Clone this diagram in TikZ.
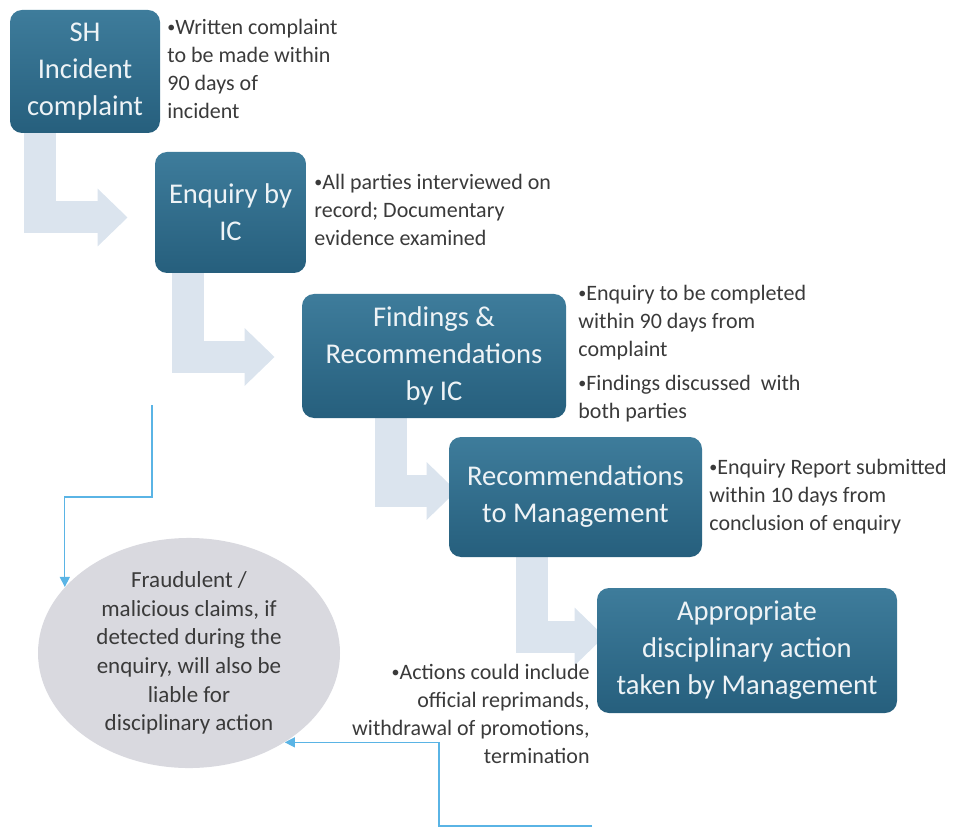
\documentclass[tikz,border=0pt]{standalone}
\usepackage{fontspec}
\setmainfont{Carlito}
\usepackage{xcolor}
\usetikzlibrary{positioning,calc}
\usetikzlibrary{shapes.geometric,arrows.meta}

\definecolor{boxtop}{HTML}{3E7C9B}
\definecolor{boxbot}{HTML}{265F7D}
\definecolor{boxtext}{HTML}{EEF3F6}
\definecolor{flowgray}{HTML}{DBE4EE}
\definecolor{linkblue}{HTML}{5AB4E5}
\definecolor{notegray}{HTML}{3A3A3A}
\definecolor{ellfill}{HTML}{D9D9DF}

\newcommand{\bul}{\raisebox{1pt}{\fontsize{8}{8}\selectfont•}}

\pgfdeclarelayer{bg}
\pgfsetlayers{bg,main}

\tikzset{
  stage/.style={rectangle, rounded corners=6pt, top color=boxtop, bottom color=boxbot,
    text=boxtext, align=center, inner sep=2pt,
    font=\fontsize{14.3}{18.5}\selectfont},
  note/.style={anchor=north west, align=left, text=notegray, inner sep=0pt,
    font=\fontsize{11}{14}\selectfont},
  flow/.style={draw=flowgray, line width=16pt, line join=miter,
    -{Triangle[width=28pt,length=15pt,fill=flowgray,color=flowgray]}},
  link/.style={draw=linkblue, line width=0.6pt, -{Triangle[width=5pt,length=5pt]}}
}

\begin{document}
\begin{tikzpicture}[x=0.5pt,y=-0.5pt]
    \useasboundingbox (0,0) rectangle (957,828);

    % stages
    \node[stage, minimum width=75pt, minimum height=61.5pt] (b1) at (85,71.5)
         {SH\\Incident\\complaint};
    \node[stage, minimum width=75.5pt, minimum height=60.5pt] (b2) at (230.5,212.5)
         {Enquiry by\\IC};
    \node[stage, minimum width=132pt, minimum height=62pt] (b3) at (434,356)
         {Findings \&\\Recommendations\\by IC};
    \node[stage, minimum width=126.5pt, minimum height=60pt] (b4) at (575.5,497)
         {Recommendations\\to Management};
    \node[stage, minimum width=150pt, minimum height=62.5pt] (b5) at (747,650.5)
         {Appropriate\\disciplinary action\\taken by Management};

    % notes
    \node[note] (n1) at (167,19) {\bul Written complaint\\to be made within\\90 days of\\incident};
    \node[note] (n2) at (314,174) {\bul All parties interviewed on\\record; Documentary\\evidence examined};
    \node[note] (n3) at (578,285) {\bul Enquiry to be completed\\within 90 days from\\complaint\\[3pt]
         \bul Findings discussed\ \ with\\both parties};
    \node[note] (n4) at (709,459) {\bul Enquiry Report submitted\\within 10 days from\\conclusion of enquiry};
    \node[note, anchor=north east, align=right] (n5) at (590,664)
         {\bul Actions could include\\official reprimands,\\withdrawal of promotions,\\termination};

    % side note
    \node[ellipse, fill=ellfill, minimum width=151pt, minimum height=108pt, inner sep=0pt,
          align=center, text=notegray, font=\fontsize{11.5}{14.3}\selectfont] (ell) at (189,653)
         {Fraudulent /\\malicious claims, if\\detected during the\\enquiry, will also be\\liable for\\disciplinary action};

    % bent arrows behind the stages
    \begin{pgfonlayer}{bg}
      \draw[flow] (b1.south west) ++(30,-4) |- ($(b2.west)+(-27,5)$);
      \draw[flow] (b2.south west) ++(33,-4) |- ($(b3.west)+(-27,1)$);
      \draw[flow] (b3.south west) ++(89,-4) |- ($(b4.west)+(8,-6)$);
      \draw[flow] (b4.south west) ++(83,-4) |- ($(b5.west)+(8,-14)$);
    \end{pgfonlayer}

    % links to the side note
    \coordinate (srcA) at (152,405);
    \coordinate (srcB) at (592,826);
    \draw[link] (srcA) -- (152,497) -| (ell.152.5);
    \draw[link] (srcB) -- (439,826) |- (ell.-43);

\end{tikzpicture}
\end{document}
